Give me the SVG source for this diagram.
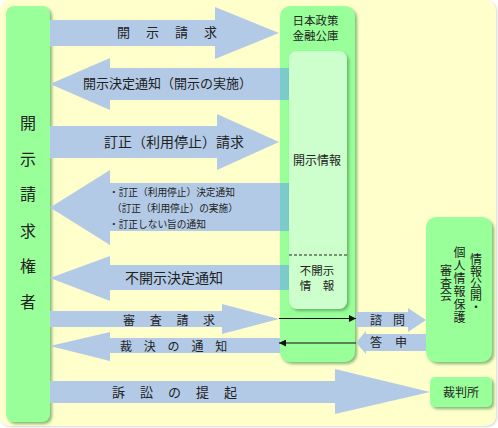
<svg xmlns="http://www.w3.org/2000/svg" width="498" height="428" viewBox="0 0 498 428">
<defs>
<filter id="sh" x="-20%" y="-20%" width="140%" height="140%">
<feDropShadow dx="2" dy="2" stdDeviation="1.5" flood-color="#4f9a4f" flood-opacity="0.7"/>
</filter>
<filter id="shb" x="-5%" y="-5%" width="110%" height="110%">
<feDropShadow dx="1" dy="1" stdDeviation="1" flood-color="#cccccc" flood-opacity="0.8"/>
</filter>
<marker id="ah" viewBox="0 0 10 10" refX="10" refY="5" markerWidth="8" markerHeight="7" markerUnits="userSpaceOnUse" orient="auto">
<path d="M0,0 L10,5 L0,10 z" fill="#111"/>
</marker>
</defs>
<style>
text{font-family:"Noto Sans CJK JP","Noto Sans CJK SC",sans-serif;fill:#222}
.box{fill:#99ff99;filter:url(#sh)}
.inner{fill:#ccffcc;filter:url(#sh)}
.arr{fill:#b3cae6}
.ov{fill:#7ccbcb}
.ln{stroke:#111;stroke-width:1.2;fill:none;marker-end:url(#ah)}
.vt{text-anchor:middle;font-size:12px}
</style>
<rect x="0" y="0" width="496" height="426" rx="10" fill="#ffffcc" filter="url(#shb)"/>

<g id="requester">
<rect class="box" x="6" y="6" width="44" height="416" rx="8"/>
<g font-size="16" text-anchor="middle">
<text x="28" y="129">開</text>
<text x="28" y="165">示</text>
<text x="28" y="200">請</text>
<text x="28" y="237">求</text>
<text x="28" y="272">権</text>
<text x="28" y="308">者</text>
</g>
</g>

<g id="jfc">
<rect class="box" x="280" y="6" width="75" height="356" rx="10"/>
<text x="315.5" y="25" font-size="11.5" text-anchor="middle">日本政策</text>
<text x="315.5" y="39.5" font-size="11.5" text-anchor="middle">金融公庫</text>
</g>

<g id="connectors">
<path class="arr" d="M50,20 H215 V7 L279,33 L215,59 V46 H50 Z"/>
<path class="arr" d="M289,68 H110 V58 L50,84 L110,110 V100 H289 Z"/>
<path class="arr" d="M50,126 H217 V114 L279,142 L217,170 V158 H50 Z"/>
<path class="arr" d="M289,183 H110 V170 L50,207.5 L110,245 V231 H289 Z"/>
<path class="arr" d="M289,265 H110 V256 L50,278 L110,301 V290 H289 Z"/>
<path class="arr" d="M50,311 H222 V304 L279,319 L222,334 V327 H50 Z"/>
<path class="arr" d="M280,338 H110 V332 L50,346 L110,361 V353 H280 Z"/>
<path class="arr" d="M50,381 H335 V369 L430,392 L335,414 V403 H50 Z"/>
<path class="arr" d="M356,312 H408 V308 L426,320 L408,332 V327 H356 Z"/>
<path class="arr" d="M426,334 H366 V331 L356,342.5 L366,354 V351 H426 Z"/>
<rect class="ov" x="280" y="68" width="9" height="32"/>
<rect class="ov" x="280" y="183" width="9" height="48"/>
<rect class="ov" x="280" y="265" width="9" height="25"/>
<line class="ln" x1="279" y1="318.5" x2="356" y2="318.5"/>
<line class="ln" x1="356" y1="343" x2="279" y2="343"/>
<text x="117" y="37" font-size="13" letter-spacing="16">開示請求</text>
<text x="83" y="88" font-size="13">開示決定通知（開示の実施）</text>
<text x="104" y="147" font-size="14">訂正（利用停止）請求</text>
<text x="109" y="195.5" font-size="9.7">・訂正（利用停止）決定通知</text>
<text x="112" y="211.5" font-size="9.7">（訂正（利用停止）の実施）</text>
<text x="109" y="227.5" font-size="9.7">・訂正しない旨の通知</text>
<text x="125" y="283" font-size="14">不開示決定通知</text>
<text x="123" y="324.5" font-size="12" letter-spacing="14.7">審査請求</text>
<text x="120" y="350.5" font-size="12" letter-spacing="11.8">裁決の通知</text>
<text x="112" y="396.5" font-size="13" letter-spacing="15">訴訟の提起</text>
<text x="370" y="324.5" font-size="12" letter-spacing="11">諮問</text>
<text x="370" y="346.5" font-size="12" letter-spacing="13">答申</text>
</g>

<g id="disclosure-info">
<rect class="inner" x="289" y="51" width="58" height="258" rx="8"/>
<line x1="289" y1="255" x2="347" y2="255" stroke="#222" stroke-width="1" stroke-dasharray="3,2"/>
<text x="317" y="164.5" font-size="12" text-anchor="middle">開示情報</text>
<text x="317" y="275" font-size="11.5" text-anchor="middle">不開示</text>
<text x="317" y="289.5" font-size="11.5" text-anchor="middle">情　報</text>
</g>

<g id="board">
<rect class="box" x="426" y="217" width="66" height="145" rx="10"/>
<text class="vt" x="476 476 476 476 476" y="264.3 276.3 288.3 300.3 312.3">情報公開・</text>
<text class="vt" x="459.5 459.5 459.5 459.5 459.5 459.5" y="257.3 270.3 283.3 296.3 309.3 322.3">個人情報保護</text>
<text class="vt" x="446 446 446" y="275.3 287.8 300.3">審査会</text>
</g>

<g id="court">
<rect class="box" x="430" y="377" width="62" height="30" rx="5"/>
<text x="461" y="396.5" font-size="12" text-anchor="middle">裁判所</text>
</g>
</svg>
